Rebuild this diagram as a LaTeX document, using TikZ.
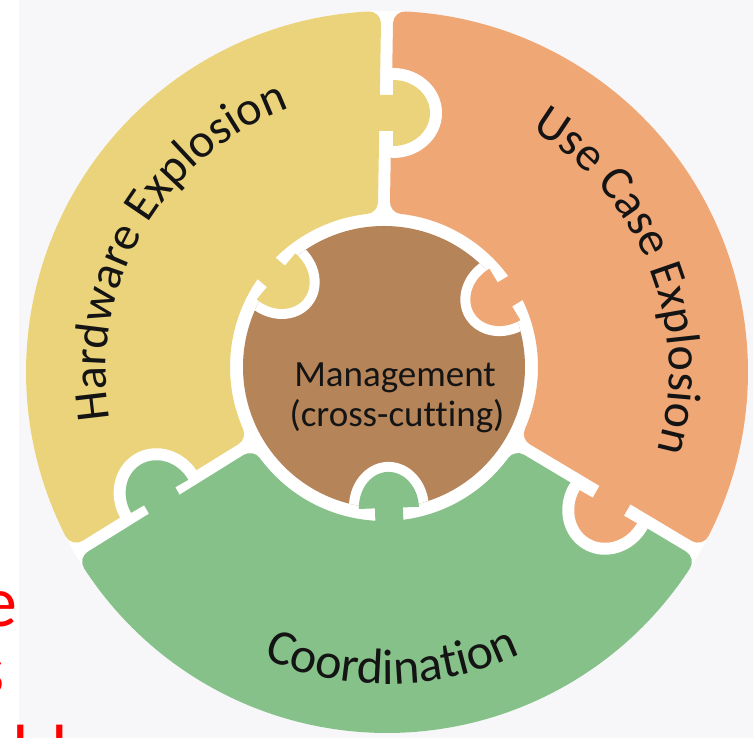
\documentclass[tikz,border=0pt]{standalone}
\usepackage{fontspec}
\setmainfont{Carlito}[Ligatures=NoCommon]
\usetikzlibrary{decorations.text,calc}
\definecolor{bgc}{RGB}{247,247,250}
\definecolor{ycol}{RGB}{234,211,122}
\definecolor{ocol}{RGB}{240,167,118}
\definecolor{gcol}{RGB}{135,193,138}
\definecolor{bcol}{RGB}{182,132,89}
\definecolor{txtc}{RGB}{20,20,20}
\newcommand\ringfont{\fontsize{48pt}{50pt}\selectfont}
\newcommand\coordfont{\fontsize{50pt}{52pt}\selectfont}
\newcommand\redfont{\fontsize{72pt}{74pt}\selectfont}
% sector: colour, start angle, end angle (outer arc about O, inner arc about I)
\newcommand\piecesector[3]{%
  \fill[#1, draw=#1, line width=24pt, line join=round]
    ($(O)+({#2+2.96}:349pt)$) arc[start angle={#2+2.96}, end angle={#3-2.96}, radius=349pt]
    -- ($(I)+({#3-6.22}:166pt)$) arc[start angle={#3-6.22}, end angle={#2+6.22}, radius=166pt] -- cycle;}
% outer tab on edge at angle #1 (about O), owner colour #2, pointing clockwise
\newcommand\outertab[2]{%
  \begin{scope}[shift={(O)}, rotate=#1]
    \begin{scope}
      \clip (0,0) rectangle (400,-400);
      \fill[white, draw=white, line width=24pt, line join=round]
        (241,20) -- (241,-6) -- (226,-6)
        arc[start angle=180, end angle=360, x radius=33pt, y radius=37pt]
        -- (277,-6) -- (277,20) -- cycle;
    \end{scope}
    \fill[#2] (241,20) -- (241,-6) -- (226,-6)
        arc[start angle=180, end angle=360, x radius=33pt, y radius=37pt]
        -- (277,-6) -- (277,20) -- cycle;
  \end{scope}}
% inner tab at angle #1 (about I), owner colour #2, pointing into the centre disc
\newcommand\innertab[2]{%
  \begin{scope}[shift={(I)}, rotate=#1]
    \begin{scope}
      \clip (0,0) circle (141pt);
      \fill[white, draw=white, line width=20pt, line join=round]
        (176,14) -- (141,14) -- (141,30)
        arc[start angle=90, end angle=270, x radius=36pt, y radius=30pt]
        -- (141,-14) -- (176,-14) -- cycle;
    \end{scope}
    \fill[#2] (176,14) -- (141,14) -- (141,30)
        arc[start angle=90, end angle=270, x radius=36pt, y radius=30pt]
        -- (141,-14) -- (176,-14) -- cycle;
  \end{scope}}
\begin{document}
\begin{tikzpicture}[x=1pt,y=1pt]
\useasboundingbox (0,0) rectangle (753,738);
\fill[white] (0,0) rectangle (753,738);
\fill[bgc] (19,0) rectangle (753,738);
\coordinate (O) at (387,366);
\coordinate (I) at (384,371);
\fill[white] (O) circle (361pt);
\piecesector{ocol}{-30}{90}
\piecesector{ycol}{90}{210}
\piecesector{gcol}{210}{330}
\fill[bcol] (I) circle (141pt);
\outertab{90}{ycol}
\outertab{-30}{ocol}
\outertab{210}{gcol}
\innertab{140}{ycol}
\innertab{31}{ocol}
\innertab{272}{gcol}
\begin{scope}[shift={(O)}]
  \path[decorate, decoration={text along path, text align=center,
      text color=txtc, text={|\ringfont|Hardware Explosion}}]
    (203:281pt) arc[start angle=203, end angle=97, radius=281pt];
  \path[decorate, decoration={text along path, text align=center,
      text color=txtc, text={|\ringfont|Use Case Explosion}}]
    (78.5:282pt) arc[start angle=78.5, end angle=-35.5, radius=282pt];
  \path[decorate, decoration={text along path, text align=center,
      text color=txtc, text={|\coordfont|Coordination}}]
    (238:312pt) arc[start angle=238, end angle=304, radius=312pt];
\end{scope}
\node[anchor=base, inner sep=0pt, text=txtc, font=\fontsize{37pt}{40pt}\selectfont]
  (mgmt) at (395,351) {Management};
\node[anchor=base, inner sep=0pt, text=txtc, font=\fontsize{37pt}{40pt}\selectfont]
  (cross) at (397,311) {(cross-cutting)};
\begin{scope}
  \clip (0,0) rectangle (753,738);
  \node[anchor=base east, inner sep=0pt, text=red, font=\redfont] (rede) at (18,111) {e};
  \node[anchor=base east, inner sep=0pt, text=red, font=\redfont] (reds) at (5,43) {s};
  \node[anchor=base west, inner sep=0pt, text=red, font=\redfont] (redi) at (12.6,-21.6) {ı};
  \node[anchor=base west, inner sep=0pt, text=red, font=\redfont] (redj) at (51.6,-21.6) {ı};
\end{scope}
\end{tikzpicture}
\end{document}
